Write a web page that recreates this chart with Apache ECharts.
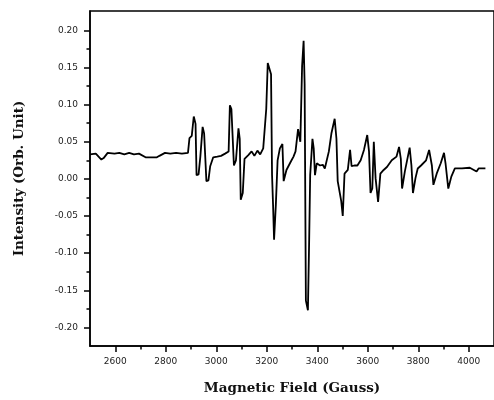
<!DOCTYPE html>
<html>
<head>
<meta charset="utf-8">
<script src="https://cdn.jsdelivr.net/npm/echarts@6/dist/echarts.min.js"></script>
<style>
  html, body { margin: 0; padding: 0; background: #fff; }
  #epr-chart { width: 494px; height: 400px; }
</style>
</head>
<body>
<div id="epr-chart"></div>
<script>
  // magnetic field (Gauss)
  const field = [
    2500, 2523, 2545, 2554, 2570, 2597, 2616, 2636, 2655, 2674, 2694, 2720, 2740, 2765, 2775, 2797, 2818, 2841, 2864, 2888,
    2894, 2903, 2911, 2918, 2922, 2930, 2937, 2946, 2952, 2961, 2969, 2976, 2988, 3004, 3019, 3035, 3049, 3054, 3060, 3070,
    3078, 3088, 3093, 3097, 3105, 3112, 3127, 3140, 3151, 3163, 3174, 3186, 3198, 3204, 3217, 3221, 3225, 3229, 3236, 3243,
    3252, 3262, 3267, 3278, 3295, 3306, 3314, 3324, 3333, 3340, 3346, 3350, 3355, 3363, 3368, 3372, 3381, 3386, 3391, 3398,
    3411, 3422, 3430, 3446, 3456, 3469, 3476, 3481, 3495, 3501, 3508, 3521, 3530, 3536, 3547, 3559, 3572, 3585, 3598, 3605,
    3611, 3618, 3624, 3631, 3641, 3650, 3663, 3676, 3695, 3714, 3724, 3731, 3736, 3747, 3760, 3766, 3773, 3779, 3789, 3798,
    3811, 3831, 3843, 3854, 3860, 3873, 3889, 3902, 3908, 3919, 3931, 3945, 3973, 4004, 4031, 4039, 4066
  ];
  // intensity (arb. unit)
  const intensity = [
    0.033, 0.034, 0.026, 0.028, 0.035, 0.034, 0.035, 0.033, 0.035, 0.033, 0.034, 0.029, 0.029, 0.029, 0.031, 0.035, 0.034, 0.035, 0.034, 0.035,
    0.055, 0.058, 0.084, 0.074, 0.005, 0.006, 0.030, 0.070, 0.061, -0.003, -0.002, 0.017, 0.029, 0.030, 0.031, 0.034, 0.037, 0.099, 0.094, 0.018,
    0.025, 0.068, 0.054, -0.028, -0.019, 0.027, 0.032, 0.037, 0.031, 0.038, 0.033, 0.041, 0.094, 0.156, 0.141, 0.005, -0.035, -0.082, -0.035, 0.025,
    0.041, 0.047, -0.003, 0.012, 0.023, 0.030, 0.037, 0.067, 0.050, 0.152, 0.186, 0.128, -0.164, -0.177, -0.082, 0.005, 0.054, 0.041, 0.005, 0.021,
    0.018, 0.019, 0.014, 0.037, 0.061, 0.081, 0.054, -0.003, -0.030, -0.050, 0.007, 0.012, 0.039, 0.017, 0.018, 0.018, 0.025, 0.039, 0.059, 0.037,
    -0.019, -0.013, 0.050, 0.001, -0.031, 0.007, 0.012, 0.016, 0.025, 0.030, 0.043, 0.027, -0.013, 0.010, 0.032, 0.042, 0.018, -0.019, 0.001, 0.014,
    0.018, 0.025, 0.039, 0.018, -0.008, 0.007, 0.021, 0.035, 0.021, -0.013, 0.003, 0.014, 0.014, 0.015, 0.010, 0.014, 0.014
  ];

  const xMajorTicks = [2600, 2800, 3000, 3200, 3400, 3600, 3800, 4000];
  const xMinorTicks = [2700, 2900, 3100, 3300, 3500, 3700, 3900];
  const yMajorTicks = [-0.2, -0.15, -0.1, -0.05, 0, 0.05, 0.1, 0.15, 0.2];
  const yMinorTicks = [-0.175, -0.125, -0.075, -0.025, 0.025, 0.075, 0.125, 0.175];

  const tickFont = { fontFamily: 'DejaVu Sans', fontSize: 9, color: '#222' };
  const titleFont = { fontFamily: 'DejaVu Serif', fontWeight: 'bold', color: '#111' };

  const xRange = { min: 2500, max: 4100 };
  const yRange = { min: -0.225, max: 0.226 };

  const option = {
    animation: false,
    grid: {
      left: 90,
      top: 11,
      width: 413,
      height: 337,
      show: true,
      borderColor: '#000',
      borderWidth: 1.5,
    },
    xAxis: [
      {
        type: 'value',
        ...xRange,
        position: 'bottom',
        name: 'Magnetic Field (Gauss)',
        nameLocation: 'middle',
        nameGap: 35,
        nameTextStyle: { ...titleFont, fontSize: 13.5 },
        axisLine: { onZero: false, lineStyle: { color: '#000', width: 1.5 } },
        axisTick: { customValues: xMajorTicks, length: 6, lineStyle: { color: '#000', width: 1.5 } },
        axisLabel: {
          customValues: xMajorTicks,
          margin: 11,
          ...tickFont,
          formatter: (v) => String(v),
        },
        splitLine: { show: false },
      },
      {
        type: 'value',
        ...xRange,
        position: 'bottom',
        axisLine: { show: false, onZero: false },
        axisTick: { customValues: xMinorTicks, length: 3.5, lineStyle: { color: '#000', width: 1.5 } },
        axisLabel: { show: false },
        splitLine: { show: false },
      },
    ],
    yAxis: [
      {
        type: 'value',
        ...yRange,
        position: 'left',
        name: 'Intensity (Orb. Unit)',
        nameLocation: 'middle',
        nameGap: 64,
        nameTextStyle: { ...titleFont, fontSize: 13.5 },
        axisLine: { onZero: false, lineStyle: { color: '#000', width: 1.5 } },
        axisTick: { customValues: yMajorTicks, length: 6, lineStyle: { color: '#000', width: 1.5 } },
        axisLabel: {
          customValues: yMajorTicks,
          margin: 12,
          ...tickFont,
          formatter: (v) => v.toFixed(2),
        },
        splitLine: { show: false },
      },
      {
        type: 'value',
        ...yRange,
        position: 'left',
        axisLine: { show: false, onZero: false },
        axisTick: { customValues: yMinorTicks, length: 3.5, lineStyle: { color: '#000', width: 1.5 } },
        axisLabel: { show: false },
        splitLine: { show: false },
      },
    ],
    series: [
      {
        type: 'line',
        data: field.map((f, i) => [f, intensity[i]]),
        symbol: 'none',
        lineStyle: { color: '#000', width: 1.8 },
      },
    ],
  };

  const chart = echarts.init(document.getElementById('epr-chart'), null, { renderer: 'canvas' });
  chart.setOption(option);
</script>
</body>
</html>
